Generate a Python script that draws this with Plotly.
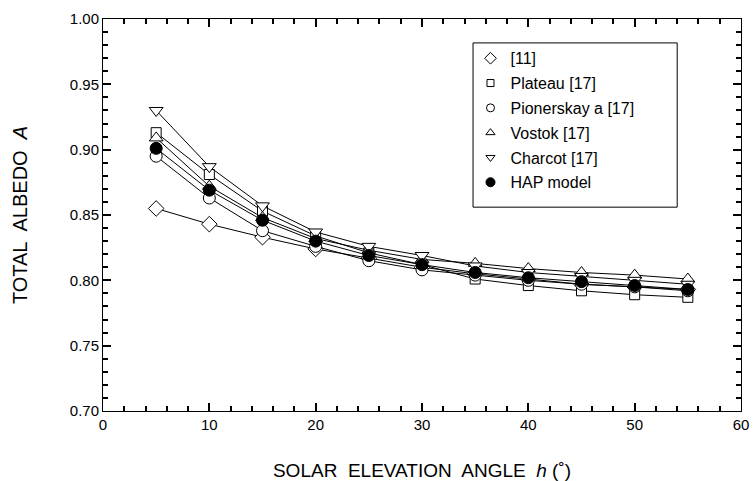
import plotly.graph_objects as go

h = [5, 10, 15, 20, 25, 30, 35, 40, 45, 50, 55]

ref11 = [0.855, 0.843, 0.833, 0.824, 0.817, 0.810, 0.805, 0.801, 0.797, 0.795, 0.793]
plateau = [0.913, 0.881, 0.853, 0.834, 0.821, 0.812, 0.801, 0.796, 0.792, 0.789, 0.787]
pionerskaya = [0.895, 0.863, 0.838, 0.826, 0.815, 0.808, 0.804, 0.800, 0.797, 0.795, 0.792]
vostok = [0.909, 0.872, 0.848, 0.832, 0.823, 0.816, 0.813, 0.809, 0.806, 0.804, 0.801]
charcot = [0.930, 0.887, 0.857, 0.837, 0.826, 0.819, 0.811, 0.806, 0.803, 0.800, 0.797]
hap = [0.901, 0.869, 0.846, 0.830, 0.819, 0.812, 0.806, 0.802, 0.799, 0.796, 0.793]

names = ["[11]", "Plateau [17]", "Pionerskay a [17]", "Vostok [17]", "Charcot [17]", "HAP model"]
series = [ref11, plateau, pionerskaya, vostok, charcot, hap]
symbols = ["diamond", "square", "circle", "triangle-up", "triangle-down", "circle"]
fills = ["white", "white", "white", "white", "white", "black"]
sizes = [12, 10, 12, 12, 12, 12]
leg_sizes = [9, 7, 8, 8, 8, 9]

fig = go.Figure()
for name, ys, sym, fc, sz in zip(names, series, symbols, fills, sizes):
    fig.add_trace(go.Scatter(
        x=h, y=ys, mode="lines+markers", showlegend=False,
        line=dict(color="black", width=1),
        marker=dict(symbol=sym, size=sz, color=fc, line=dict(color="black", width=1)),
    ))
for i, (name, sym, fc, sz) in enumerate(zip(names, symbols, fills, leg_sizes)):
    fig.add_trace(go.Scatter(
        x=[None], y=[None], mode="markers", name=name, legendgroup=f"g{i}",
        marker=dict(symbol=sym, size=sz, color=fc, line=dict(color="black", width=1)),
    ))

# legend frame
fig.add_shape(type="rect", xref="paper", yref="paper",
              x0=0.58, x1=0.90, y0=0.52, y1=0.939,
              line=dict(color="black", width=1), fillcolor="white", layer="below")

font = "Liberation Sans, Arial, sans-serif"
fig.update_layout(
    width=754, height=481,
    margin=dict(l=103, r=13, t=19, b=70),
    paper_bgcolor="white", plot_bgcolor="white",
    font=dict(family=font, size=15, color="black"),
    showlegend=True,
    legend=dict(
        x=0.576, y=0.943, xanchor="left", yanchor="top",
        borderwidth=0, bgcolor="rgba(0,0,0,0)",
        font=dict(size=16), tracegroupgap=1, itemwidth=30,
    ),
    xaxis=dict(
        range=[0, 60], tickmode="linear", tick0=0, dtick=10,
        ticks="inside", ticklen=8, tickwidth=2, tickcolor="black",
        minor=dict(dtick=2, ticks="inside", ticklen=5, tickwidth=2, tickcolor="black"),
        showline=True, linecolor="black", linewidth=1, mirror="ticks",
        showgrid=False, zeroline=False, automargin=False,
        title=dict(text="SOLAR\u00a0 ELEVATION\u00a0 ANGLE\u00a0 <i>h</i>\u00a0(˚)", font=dict(size=19), standoff=32),
        tickfont=dict(size=15),
    ),
    yaxis=dict(
        range=[0.70, 1.00], tickmode="linear", tick0=0.70, dtick=0.05,
        tickformat=".2f",
        ticks="inside", ticklen=8, tickwidth=2, tickcolor="black",
        minor=dict(dtick=0.01, ticks="inside", ticklen=5, tickwidth=2, tickcolor="black"),
        showline=True, linecolor="black", linewidth=1, mirror="ticks",
        showgrid=False, zeroline=False, automargin=False,
        title=dict(text="TOTAL\u00a0 ALBEDO\u00a0 <i>A</i>", font=dict(size=20), standoff=36),
        tickfont=dict(size=15),
    ),
)
fig.write_html("out.html")
